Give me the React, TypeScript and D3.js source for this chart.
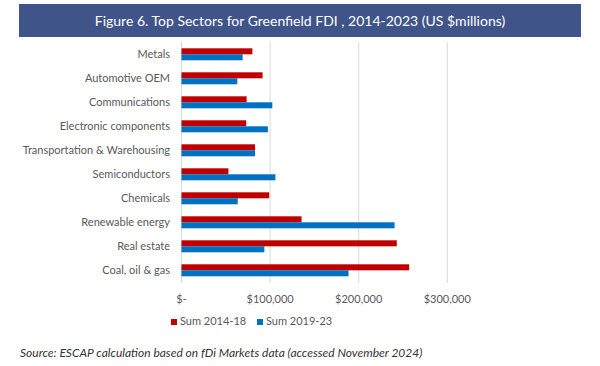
import * as d3 from 'd3'

const categories = [
  'Metals',
  'Automotive OEM',
  'Communications',
  'Electronic components',
  'Transportation & Warehousing',
  'Semiconductors',
  'Chemicals',
  'Renewable energy',
  'Real estate',
  'Coal, oil & gas',
]
const sum2014 = [80000, 91500, 73500, 73000, 83000, 53000, 99000, 135500, 243000, 257000]
const sum2019 = [69000, 63000, 102500, 97500, 83000, 106000, 63500, 240500, 93500, 188500]
const xTicks = [0, 100000, 200000, 300000]
const seriesNames = ['Sum 2014-18', 'Sum 2019-23']
const seriesColors = ['#C00000', '#0070C0']

const font = 'Lato, "Open Sans", sans-serif'

export default function App() {
  const width = 600
  const height = 366

  const x = d3.scaleLinear().domain([0, 300000]).range([181.5, 447.3])
  const y = d3
    .scaleBand<string>()
    .domain(categories)
    .range([42.3, 282.3])
    .paddingInner(0.5)
    .paddingOuter(0.25)
  const sub = d3.scaleBand<number>().domain([0, 1]).range([0, y.bandwidth()])

  const fmt = (v: number) => (v === 0 ? '$-' : '$' + d3.format(',')(v))

  return (
    <svg
      width={width}
      height={height}
      style={{ position: 'absolute', left: 0, top: 0, background: '#fff' }}
      fontFamily={font}
    >
      <rect x={19} y={4} width={562} height={33} fill="#3F5489" />
      <text x={300} y={25.5} textAnchor="middle" fill="#fff" fontSize={14}>
        Figure 6. Top Sectors for Greenfield FDI , 2014-2023 (US $millions)
      </text>

      {xTicks.map((t) => (
        <g key={t}>
          <line x1={x(t)} x2={x(t)} y1={42} y2={283} stroke="#D9D9D9" strokeWidth={1} />
          <text x={x(t)} y={303} textAnchor="middle" fill="#595959" fontSize={11}>
            {fmt(t)}
          </text>
        </g>
      ))}

      {categories.map((c, i) => {
        const y0 = y(c) ?? 0
        return (
          <g key={c}>
            <text
              x={170}
              y={y0 + y.bandwidth() / 2 + 4}
              textAnchor="end"
              fill="#595959"
              fontSize={11}
            >
              {c}
            </text>
            {[sum2014[i], sum2019[i]].map((v, k) => (
              <rect
                key={k}
                x={x(0)}
                y={y0 + (sub(k) ?? 0)}
                width={x(v) - x(0)}
                height={sub.bandwidth()}
                fill={seriesColors[k]}
              />
            ))}
          </g>
        )
      })}

      {seriesNames.map((s, k) => {
        const lx = k === 0 ? 171 : 257
        return (
          <g key={s}>
            <rect x={lx} y={319} width={6} height={6} fill={seriesColors[k]} />
            <text x={lx + 9} y={325} fill="#595959" fontSize={11}>
              {s}
            </text>
          </g>
        )
      })}

      <text x={20} y={357} fill="#333" fontSize={12} fontStyle="italic">
        Source: ESCAP calculation based on fDi Markets data (accessed November 2024)
      </text>
    </svg>
  )
}
